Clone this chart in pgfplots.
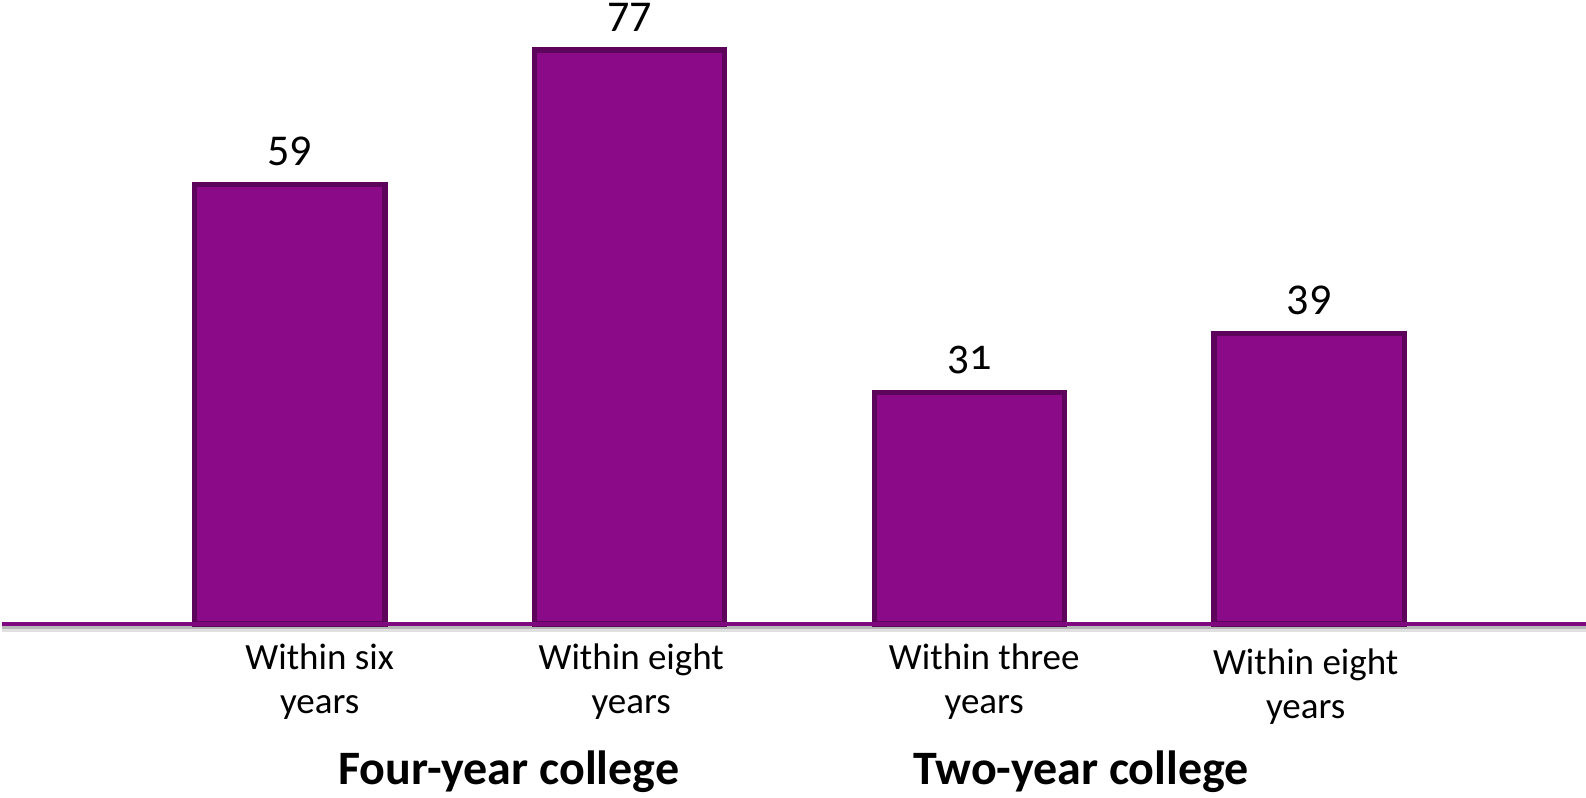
\documentclass[border=0pt]{standalone}
\usepackage{fontspec}
\setmainfont{Carlito}
\usepackage{pgfplots}
\pgfplotsset{compat=1.18}
\definecolor{barpurple}{RGB}{139,10,135}
\definecolor{bardark}{RGB}{92,5,90}
\definecolor{axpurple}{RGB}{128,8,126}
\begin{document}
\begin{tikzpicture}
\begin{axis}[
  at={(1pt,87pt)}, anchor=south west,
  scale only axis, width=792pt, height=312pt,
  xmin=-0.847, xmax=3.815, ymin=0, ymax=83.7,
  axis x line*=bottom, axis y line=none,
  x axis line style={-, line width=2.2pt, color=axpurple},
  ytick=\empty,
  xtick={0.088,1.005,2.044,2.99},
  xticklabels={Within six\\years, Within eight\\years, Within three\\years, \rule{0pt}{15pt}Within eight\\years},
  major tick length=0pt,
  xticklabel style={font=\fontsize{18.5}{22}\selectfont, align=center, text=black, yshift=-6.5pt},
  ybar, bar width=0.56,
  nodes near coords, point meta=explicit symbolic,
  nodes near coords style={font=\fontsize{22}{26}\selectfont, anchor=south, inner sep=0pt, yshift=8pt, text=black},
  clip=false, axis on top,
]
\draw[black!12, line width=2pt] ([yshift=-2.8pt]rel axis cs:0,0) -- ([yshift=-2.8pt]rel axis cs:1,0);
\draw[black!28, line width=1.2pt] ([yshift=-1.8pt]rel axis cs:0,0) -- ([yshift=-1.8pt]rel axis cs:1,0);
\addplot[fill=barpurple, draw=bardark, line width=2.6pt] coordinates {(0,59)[59] (1,77)[77] (2,31)[{\addfontfeature{Numbers=OldStyle}31}] (3,39)[39]};
\node[font=\bfseries\fontsize{24}{28}\selectfont] at (axis cs:0.644,0) [yshift=-74pt] {Four-year college};
\node[font=\bfseries\fontsize{24}{28}\selectfont] at (axis cs:2.329,0) [yshift=-74pt] {Two-year college};
\end{axis}
\pgfresetboundingbox
\path (0,0) rectangle (793pt,399pt);
\end{tikzpicture}
\end{document}
